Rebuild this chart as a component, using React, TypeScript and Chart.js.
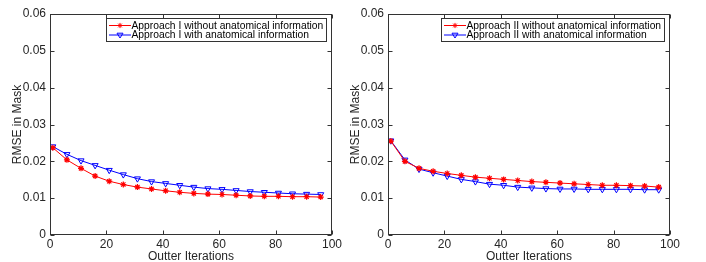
import React, { useEffect, useRef } from "react";
import { Chart, registerables } from "chart.js";

Chart.register(...registerables);

// ---------- data ----------
const iterations = [1, 6, 11, 16, 21, 26, 31, 36, 41, 46, 51, 56, 61, 66, 71, 76, 81, 86, 91, 96];

const leftWithout = [0.0237, 0.0204, 0.0181, 0.016, 0.0146, 0.0137, 0.013, 0.0125, 0.012, 0.0116, 0.0113, 0.0111, 0.011, 0.0108, 0.0106, 0.0105, 0.0105, 0.0104, 0.0104, 0.0103];
const leftWith = [0.0240, 0.0219, 0.0202, 0.0189, 0.0176, 0.0164, 0.0153, 0.0145, 0.014, 0.0135, 0.013, 0.0126, 0.0124, 0.0121, 0.0118, 0.0116, 0.0114, 0.0112, 0.0111, 0.011];

const rightWithout = [0.0255, 0.02, 0.0181, 0.0173, 0.0167, 0.0162, 0.0157, 0.0154, 0.0151, 0.0148, 0.0145, 0.0143, 0.0141, 0.0139, 0.0137, 0.0135, 0.0135, 0.0134, 0.0133, 0.013];
const rightWith = [0.0256, 0.0204, 0.0179, 0.0169, 0.016, 0.0151, 0.0145, 0.0138, 0.0135, 0.013, 0.0128, 0.0126, 0.0125, 0.0125, 0.0124, 0.0124, 0.0124, 0.0124, 0.0123, 0.0123];

const leftLabels = ["Approach I without anatomical information", "Approach I with anatomical information"];
const rightLabels = ["Approach II without anatomical information", "Approach II with anatomical information"];

const xTitle = "Outter Iterations";
const yTitle = "RMSE in Mask";

const xMin = 0;
const xMax = 100;
const xStep = 20;
const yMin = 0;
const yMax = 0.06;
const yStep = 0.01;

const FONT = "'Liberation Sans', Arial, Helvetica, sans-serif";
const TEXT = "#262626";
const RED = "rgb(255,0,0)";
const BLUE = "rgb(0,0,255)";

// ---------- MATLAB-like frame, inward ticks and boxed legend ----------
const matlabPlugin = {
  id: "matlabFrame",
  afterDraw(chart: any) {
    const { ctx, chartArea: a, scales } = chart;
    const L = Math.round(a.left) + 0.5;
    const R = Math.round(a.right) - 0.5;
    const T = Math.round(a.top) + 0.5;
    const B = Math.round(a.bottom) - 0.5;
    ctx.save();
    ctx.strokeStyle = "#333";
    ctx.lineWidth = 1;
    ctx.strokeRect(L, T, R - L, B - T);
    const tl = 4;
    ctx.beginPath();
    scales.x.ticks.forEach((t: any) => {
      const x = Math.round(scales.x.getPixelForValue(t.value)) + 0.5;
      ctx.moveTo(x, B);
      ctx.lineTo(x, B - tl);
      ctx.moveTo(x, T);
      ctx.lineTo(x, T + tl);
    });
    scales.y.ticks.forEach((t: any) => {
      const y = Math.round(scales.y.getPixelForValue(t.value)) + 0.5;
      ctx.moveTo(L, y);
      ctx.lineTo(L + tl, y);
      ctx.moveTo(R, y);
      ctx.lineTo(R - tl, y);
    });
    ctx.stroke();

    // legend box
    const fs = 10.3;
    ctx.font = `${fs}px ${FONT}`;
    const ds = chart.data.datasets;
    let maxW = 0;
    ds.forEach((d: any) => {
      maxW = Math.max(maxW, ctx.measureText(d.label).width);
    });
    const boxW = Math.round(maxW + 28);
    const boxR = Math.round(a.right) - 6;
    const boxL = boxR - boxW;
    const boxT = Math.round(a.top) + 4;
    const boxH = 23;
    ctx.fillStyle = "#fff";
    ctx.fillRect(boxL + 0.5, boxT + 0.5, boxW, boxH);
    ctx.strokeStyle = "#333";
    ctx.strokeRect(boxL + 0.5, boxT + 0.5, boxW, boxH);
    ds.forEach((d: any, i: number) => {
      const cy = boxT + 7.5 + i * 9.5;
      const x0 = boxL + 3;
      const x1 = boxL + 25;
      ctx.strokeStyle = d.borderColor;
      ctx.lineWidth = 1;
      ctx.beginPath();
      ctx.moveTo(x0, cy);
      ctx.lineTo(x1, cy);
      ctx.stroke();
      const cx = (x0 + x1) / 2;
      ctx.beginPath();
      if (d.pointStyle === "star") {
        const r = 2.6;
        ctx.moveTo(cx - r, cy); ctx.lineTo(cx + r, cy);
        ctx.moveTo(cx, cy - r); ctx.lineTo(cx, cy + r);
        const k = r * 0.707;
        ctx.moveTo(cx - k, cy - k); ctx.lineTo(cx + k, cy + k);
        ctx.moveTo(cx - k, cy + k); ctx.lineTo(cx + k, cy - k);
      } else {
        const r = 3;
        ctx.moveTo(cx - r, cy - r * 0.6);
        ctx.lineTo(cx + r, cy - r * 0.6);
        ctx.lineTo(cx, cy + r);
        ctx.closePath();
      }
      ctx.stroke();
      ctx.fillStyle = "#000";
      ctx.textBaseline = "middle";
      ctx.textAlign = "left";
      ctx.fillText(d.label, boxL + 25.5, cy + 0.5);
    });
    ctx.restore();
  },
};

function makeConfig(labels: string[], without: number[], withA: number[], padLeft: number, padRight: number) {
  return {
    type: "line" as const,
    data: {
      datasets: [
        {
          label: labels[0],
          data: iterations.map((x, i) => ({ x, y: without[i] })),
          borderColor: RED,
          backgroundColor: RED,
          borderWidth: 1,
          pointStyle: "star",
          pointRadius: 3,
          pointBorderColor: RED,
          pointBorderWidth: 1.2,
          tension: 0,
        },
        {
          label: labels[1],
          data: iterations.map((x, i) => ({ x, y: withA[i] })),
          borderColor: BLUE,
          backgroundColor: "rgba(0,0,0,0)",
          borderWidth: 1,
          pointStyle: "triangle",
          rotation: 180,
          pointRadius: 3.5,
          pointBorderColor: BLUE,
          pointBackgroundColor: "rgba(255,255,255,0)",
          pointBorderWidth: 1,
          tension: 0,
        },
      ],
    },
    options: {
      animation: false,
      responsive: false,
      maintainAspectRatio: false,
      layout: { padding: { left: padLeft, right: padRight, top: 14, bottom: 0 } },
      plugins: { legend: { display: false }, tooltip: { enabled: false } },
      scales: {
        x: {
          type: "linear",
          min: xMin,
          max: xMax,
          grid: { display: false, drawTicks: false },
          border: { display: false },
          ticks: {
            stepSize: xStep,
            padding: 2.5,
            color: TEXT,
            font: { family: FONT, size: 12 },
            maxRotation: 0,
          },
          title: {
            display: true,
            text: xTitle,
            color: TEXT,
            font: { family: FONT, size: 12, lineHeight: 0.9 },
            padding: 0,
          },
          afterFit: (s: any) => {
            s.height = 27;
          },
        },
        y: {
          type: "linear",
          min: yMin,
          max: yMax,
          grid: { display: false, drawTicks: false },
          border: { display: false },
          ticks: {
            stepSize: yStep,
            padding: 4,
            color: TEXT,
            font: { family: FONT, size: 12 },
            callback: (v: any) => (Math.abs(v) < 1e-9 ? "0" : Number(v).toFixed(2)),
          },
          title: {
            display: true,
            text: yTitle,
            color: TEXT,
            font: { family: FONT, size: 12 },
            padding: 0,
          },
          afterFit: (s: any) => {
            s.width = 40;
          },
        },
      },
    },
    plugins: [matlabPlugin],
  };
}

function LineChart(props: { labels: string[]; without: number[]; withA: number[]; padLeft: number; padRight: number; width: number; left: number }) {
  const ref = useRef<HTMLCanvasElement | null>(null);
  useEffect(() => {
    if (!ref.current) return;
    const chart = new Chart(ref.current, makeConfig(props.labels, props.without, props.withA, props.padLeft, props.padRight) as any);
    return () => chart.destroy();
  }, []);
  return (
    <canvas
      ref={ref}
      width={props.width}
      height={262}
      style={{ position: "absolute", left: props.left, top: 0, width: props.width, height: 262, display: "block" }}
    />
  );
}

export default function App() {
  return (
    <div style={{ position: "absolute", left: 0, top: 0, width: 706, height: 262, background: "#fff", overflow: "hidden" }}>
      <LineChart labels={leftLabels} without={leftWithout} withA={leftWith} padLeft={10} padRight={18} width={350} left={0} />
      <LineChart labels={rightLabels} without={rightWithout} withA={rightWith} padLeft={8} padRight={36} width={366} left={340} />
    </div>
  );
}
